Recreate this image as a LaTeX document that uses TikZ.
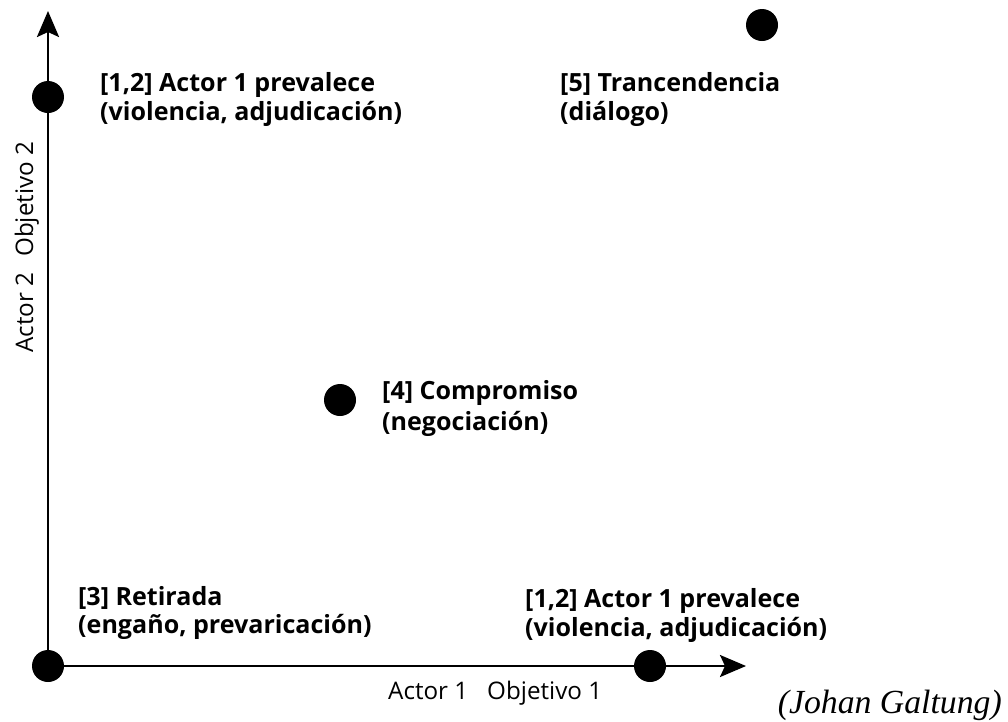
\documentclass[tikz,border=0pt]{standalone}
\usepackage{fontspec}
\setmainfont{Open Sans}
\newfontfamily\capfont{Liberation Serif}
\usetikzlibrary{arrows.meta}
\newlength\wbold
\newlength\wreg
\newlength\wcap
\begin{document}
\settowidth\wbold{\bfseries\fontsize{10}{12}\selectfont (violencia, adjudicación)}%
\settowidth\wreg{\fontsize{10}{12}\selectfont Actor 1}%
\settowidth\wcap{\capfont\itshape\fontsize{10}{12}\selectfont (Johan Galtung)}%
\pgfmathsetmacro\bsz{10*302/\wbold}%
\pgfmathsetmacro\rsz{10*80/\wreg}%
\pgfmathsetmacro\csz{10*224/\wcap}%
\begin{tikzpicture}[x=1pt,y=-1pt,
  axis/.style={line width=2.6pt, -{Stealth[length=26pt,width=22pt,inset=5pt]}},
  dot/.style={circle, fill=black, minimum size=32pt, inner sep=0pt},
  lbl/.style={font=\bfseries\fontsize{\bsz}{\bsz}\selectfont, anchor=base west, inner sep=0pt},
  axl/.style={font=\fontsize{\rsz}{\rsz}\selectfont, anchor=base west, inner sep=0pt},
  captext/.style={font=\capfont\itshape\fontsize{\csz}{\csz}\selectfont, anchor=base east, inner sep=0pt}]
\useasboundingbox (0,0) rectangle (1008,721);
\coordinate (o) at (48,666);
\coordinate (ytip) at (48,11);
\coordinate (xtip) at (746,666);
\draw[axis] (o) -- (ytip);
\draw[axis] (o) -- (xtip);
\node[dot] (d3) at (o) {};
\node[dot] (d12a) at (48,97) {};
\node[dot] (d12b) at (650,666) {};
\node[dot] (d4) at (340,400) {};
\node[dot] (d5) at (762,25) {};
\node[lbl] (t12a1) at (100,91) {[1,2] Actor 1 prevalece};
\node[lbl] (t12a2) at (100,120) {(violencia, adjudicación)};
\node[lbl] (t51) at (560,91) {[5] Trancendencia};
\node[lbl] (t52) at (560,120) {(diálogo)};
\node[lbl] (t41) at (382,399) {[4] Compromiso};
\node[lbl] (t42) at (382,430) {(negociación)};
\node[lbl] (t31) at (78,605) {[3] Retirada};
\node[lbl] (t32) at (78,633) {(engaño, prevaricación)};
\node[lbl] (t12b1) at (525,607) {[1,2] Actor 1 prevalece};
\node[lbl] (t12b2) at (525,636) {(violencia, adjudicación)};
\node[axl] (ax1) at (388,699) {Actor 1};
\node[axl] (ox1) at (487,699) {Objetivo 1};
\node[axl, rotate=90] (ax2) at (33,353) {Actor 2};
\node[axl, rotate=90] (ox2) at (33,257) {Objetivo 2};
\node[captext] (src) at (1002,713) {(Johan Galtung)};
\end{tikzpicture}
\end{document}
